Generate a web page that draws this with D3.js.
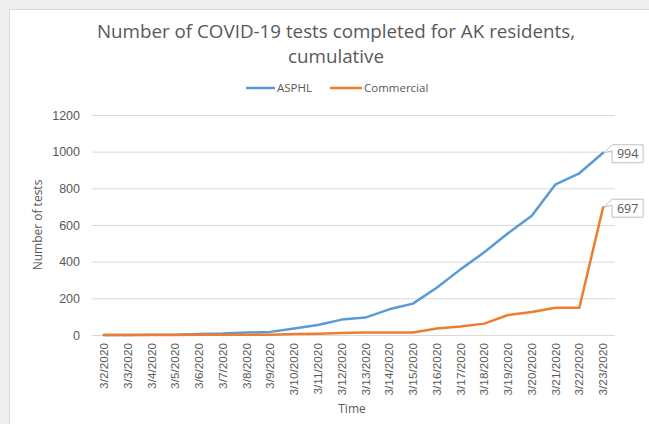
<!DOCTYPE html>
<html><head><meta charset="utf-8">
<script src="https://cdn.jsdelivr.net/npm/d3@7"></script>
<style>
html,body{margin:0;padding:0;background:#efefef;}
svg{display:block;font-family:"Open Sans","Liberation Sans",sans-serif;}
</style></head>
<body>
<svg id="c" width="649" height="424"></svg>
<script>
const dates = ["3/2/2020","3/3/2020","3/4/2020","3/5/2020","3/6/2020","3/7/2020","3/8/2020","3/9/2020","3/10/2020","3/11/2020","3/12/2020","3/13/2020","3/14/2020","3/15/2020","3/16/2020","3/17/2020","3/18/2020","3/19/2020","3/20/2020","3/21/2020","3/22/2020","3/23/2020"];
const asphl = [0,0,1,2,6,8,13,17,35,55,84,95,140,171,258,358,451,555,651,822,882,994];
const commercial = [0,0,0,0,1,1,2,2,5,7,11,14,14,14,35,46,62,109,125,149,149,697];
const yTicks = [0,200,400,600,800,1000,1200];
const seriesNames = ["ASPHL","Commercial"];
const colors = ["#5b9bd5","#ed7d31"];
const titleLines = ["Number of COVID-19 tests completed for AK residents,","cumulative"];

const svg = d3.select("#c");
const txt = "#595959";
// panel
svg.append("rect").attr("x",9.5).attr("y",9.5).attr("width",660).attr("height",440)
  .attr("fill","#fff").attr("stroke","#d9d9d9").attr("stroke-width",1);

const x = d3.scaleBand().domain(dates).range([92,615]).padding(0);
const y = d3.scaleLinear().domain([0,1200]).range([335,115]);
const cx = d => x(d) + x.bandwidth()/2;

// grid
const yAxis = d3.axisLeft(y).tickValues(yTicks).tickFormat(d3.format("d")).tickSize(-(615-92)).tickPadding(12);
const gy = svg.append("g").attr("transform","translate(92,0)").call(yAxis);
gy.select(".domain").remove();
gy.selectAll(".tick line").attr("stroke","#d9d9d9");
gy.selectAll(".tick text").attr("fill",txt).attr("font-size",12.5);

// x axis labels
const xAxis = d3.axisBottom(x).tickSize(0).tickPadding(0);
const gx = svg.append("g").attr("transform","translate(0,335)").call(xAxis);
gx.select(".domain").remove();
gx.selectAll(".tick text")
  .attr("fill",txt).attr("font-size",11.8)
  .attr("text-anchor","end")
  .attr("transform","translate(0,8) rotate(-90)")
  .attr("x",0).attr("y",0).attr("dy","0.35em");

// lines
const line = d3.line().x((v,i)=>cx(dates[i])).y(v=>y(v));
[asphl, commercial].forEach((s,k)=>{
  svg.append("path").datum(s).attr("d",line).attr("fill","none")
    .attr("stroke",colors[k]).attr("stroke-width",2.5).attr("stroke-linejoin","round").attr("stroke-linecap","round");
});

// callout labels
[asphl, commercial].forEach((s,k)=>{
  const last = s.length-1;
  const px = cx(dates[last]), py = y(s[last]);
  const bx = px + 9, top = py - 8, w = 31, h = 18;
  svg.append("path")
    .attr("d",`M${bx},${top} H${bx+w} V${top+h} H${bx} V${top+6} L${px+1},${py} Z`)
    .attr("fill","#fff").attr("stroke","#bfbfbf").attr("stroke-width",1);
  svg.append("text").attr("x",bx+w/2).attr("y",top+h/2).attr("dy","0.35em")
    .attr("text-anchor","middle").attr("fill",txt).attr("font-size",12.5).text(s[last]);
});

// title
svg.append("g").selectAll("text").data(titleLines).join("text")
  .attr("x",336).attr("y",(d,i)=>38+i*25).attr("text-anchor","middle")
  .attr("fill",txt).attr("font-size",18.8).text(d=>d);

// legend
const leg = [{x1:246,x2:275,tx:277},{x1:330,x2:362,tx:364}];
seriesNames.forEach((n,k)=>{
  svg.append("line").attr("x1",leg[k].x1).attr("x2",leg[k].x2).attr("y1",88).attr("y2",88)
    .attr("stroke",colors[k]).attr("stroke-width",2.5);
  svg.append("text").attr("x",leg[k].tx).attr("y",88).attr("dy","0.35em")
    .attr("fill",txt).attr("font-size",11.5).text(n);
});

// axis titles
svg.append("text").attr("transform","translate(38,225) rotate(-90)").attr("text-anchor","middle")
  .attr("dy","0.35em").attr("fill",txt).attr("font-size",12).text("Number of tests");
svg.append("text").attr("x",352).attr("y",409).attr("text-anchor","middle").attr("dy","0.35em")
  .attr("fill",txt).attr("font-size",12).text("Time");
</script>
</body></html>
